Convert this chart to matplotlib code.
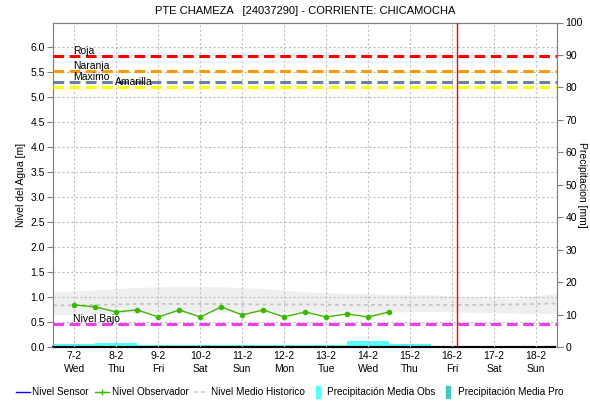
import matplotlib
matplotlib.use('Agg')
import matplotlib.pyplot as plt
import numpy as np
from matplotlib.lines import Line2D
from matplotlib.path import Path

plt.rcParams['font.family'] = ['Liberation Sans', 'DejaVu Sans']
plt.rcParams['font.size'] = 7.5

#~~~~~~~~~~~~~~~~~~
# DATOS
#~~~~~~~~~~~~~~~~~~

titulo = 'PTE CHAMEZA   [24037290] - CORRIENTE: CHICAMOCHA'

dias = [7, 8, 9, 10, 11, 12, 13, 14, 15, 16, 17, 18]
fechas = ['7-2', '8-2', '9-2', '10-2', '11-2', '12-2', '13-2', '14-2', '15-2', '16-2', '17-2', '18-2']
semana = ['Wed', 'Thu', 'Fri', 'Sat', 'Sun', 'Mon', 'Tue', 'Wed', 'Thu', 'Fri', 'Sat', 'Sun']

# nivel observador (dos lecturas por dia)
obs_t = [7.0, 7.5, 8.0, 8.5, 9.0, 9.5, 10.0, 10.5, 11.0, 11.5, 12.0, 12.5, 13.0, 13.5, 14.0, 14.5]
obs_nivel = [0.84, 0.80, 0.70, 0.74, 0.60, 0.74, 0.60, 0.80, 0.64, 0.74, 0.60, 0.70, 0.60, 0.66, 0.60, 0.70]

# nivel medio historico y banda
hist_t = [6.5, 7.5, 8.5, 9.5, 10.5, 11.5, 12.5, 13.5, 14.5, 15.5, 16.5, 17.5, 18.5]
hist_sup = [1.10, 1.14, 1.19, 1.21, 1.20, 1.17, 1.10, 1.07, 1.05, 1.04, 1.00, 0.96, 1.08]
hist_inf = [0.64, 0.66, 0.68, 0.70, 0.70, 0.70, 0.70, 0.70, 0.70, 0.71, 0.69, 0.68, 0.67]
hist_med = [0.83, 0.84, 0.86, 0.86, 0.86, 0.85, 0.85, 0.84, 0.84, 0.84, 0.84, 0.85, 0.87]

# precipitacion media observada (mm por dia)
precip_dia = [6, 7, 8, 9, 10, 11, 12, 13, 14, 15]
precip_obs = [2.0, 1.0, 1.3, 0.6, 0.6, 0.6, 0.6, 0.6, 1.85, 0.9]

# umbrales
umbral_nombre = ['Roja', 'Naranja', 'Maximo', 'Amarilla', 'Nivel Bajo']
umbral_valor = [5.81, 5.51, 5.29, 5.19, 0.45]
umbral_color = ['#ff0000', '#ff9a00', '#6f7fa0', '#ffff00', '#ee3cee']
umbral_xtexto = [7.0, 7.0, 7.0, 8.0, 7.0]

ahora = 16.11

#~~~~~~~~~~
# PLOTTING
#~~~~~~~~~~

fig = plt.figure(figsize=(5.9, 4.01), dpi=100)
ax = fig.add_axes([53/590, 1 - 347/401, 504/590, 324.5/401])
ax2 = ax.twinx()

ax.set_zorder(2)
ax.patch.set_visible(False)

# precipitacion (eje derecho)
ax2.bar(precip_dia, precip_obs, width=1.0, color='#55ffff', linewidth=0, zorder=1)
ax2.set_ylim(0, 100)
ax2.set_yticks(range(0, 101, 10))

# banda historica
ax.fill_between(hist_t, hist_inf, hist_sup, color='#efefef', linewidth=0, zorder=1)
ax.plot(hist_t, hist_med, color='#c4c4c4', linestyle=(0, (2, 2)), linewidth=1.3, zorder=2)

# umbrales
for nom, val, col, xt in zip(umbral_nombre, umbral_valor, umbral_color, umbral_xtexto):
	ax.axhline(val, color=col, linewidth=2.2, dashes=(3.5, 1.8), zorder=3)
	ax.text(xt - 0.03, val + 0.05, nom, fontsize=7.5, va='baseline', ha='left', zorder=4)

# nivel observador
ax.plot(obs_t, obs_nivel, color='#3cb800', linewidth=1, marker='o', markersize=3, zorder=5)

# momento actual
ax.axvline(ahora, color='#ff0000', linewidth=1, zorder=6)

ax.set_xlim(6.49, 18.5)
ax.set_ylim(0, 6.48)
ax.set_yticks(np.arange(0, 6.01, 0.5))
ax.set_yticklabels(['%.1f' % v for v in np.arange(0, 6.01, 0.5)])
ax.set_xticks(dias)
ax.set_xticklabels([f + '\n' + s for f, s in zip(fechas, semana)], linespacing=1.35)

ax.grid(True, which='major', color='#c0c0c0', linestyle=(0, (2, 2)), linewidth=0.8)
ax.set_axisbelow(False)

for a in (ax, ax2):
	for sp in ('left', 'right', 'top'):
		a.spines[sp].set_color('#808080')
	a.spines['bottom'].set_color('black')
	a.spines['bottom'].set_linestyle((0, (1, 1)))
	a.spines['bottom'].set_linewidth(1.5)
ax.tick_params(axis='y', length=4, color='#808080', pad=2)
ax.tick_params(axis='x', length=0, pad=3)
ax2.tick_params(axis='y', length=4, color='#808080', pad=2)

ax.set_ylabel('Nivel del Agua [m]', fontsize=7.5, labelpad=3)
fig.text(582/590, 1 - 185/401, 'Precipitacion [mm]', rotation=270,
	ha='center', va='center', fontsize=7.5)

fig.text(305/590, 1 - 11/401, titulo, ha='center', va='center', fontsize=8)

# leyenda
barra = Path([(-0.3, -1), (0.3, -1), (0.3, 1), (-0.3, 1), (-0.3, -1)])
handles = [
	Line2D([], [], color='#0000ff', linewidth=1),
	Line2D([], [], color='#3cb800', linewidth=1, marker='+', markersize=4),
	Line2D([], [], color='#d0d0d0', linestyle=(0, (2, 2)), linewidth=1.3),
	Line2D([], [], linestyle='none', marker=barra, markersize=9, color='#55ffff'),
	Line2D([], [], linestyle='none', marker=barra, markersize=9, color='#40c8c8'),
]
labels = ['Nivel Sensor', 'Nivel Observador', 'Nivel Medio Historico',
	'Precipitación Media Obs', 'Precipitación Media Pro']
fig.legend(handles, labels, loc='center left', bbox_to_anchor=(16/590, 1 - 392/401),
	ncol=5, frameon=False, fontsize=7.2, handlelength=1.4, handletextpad=0.25,
	columnspacing=0.6, borderaxespad=0, borderpad=0)

plt.savefig('out.png', dpi=100)
